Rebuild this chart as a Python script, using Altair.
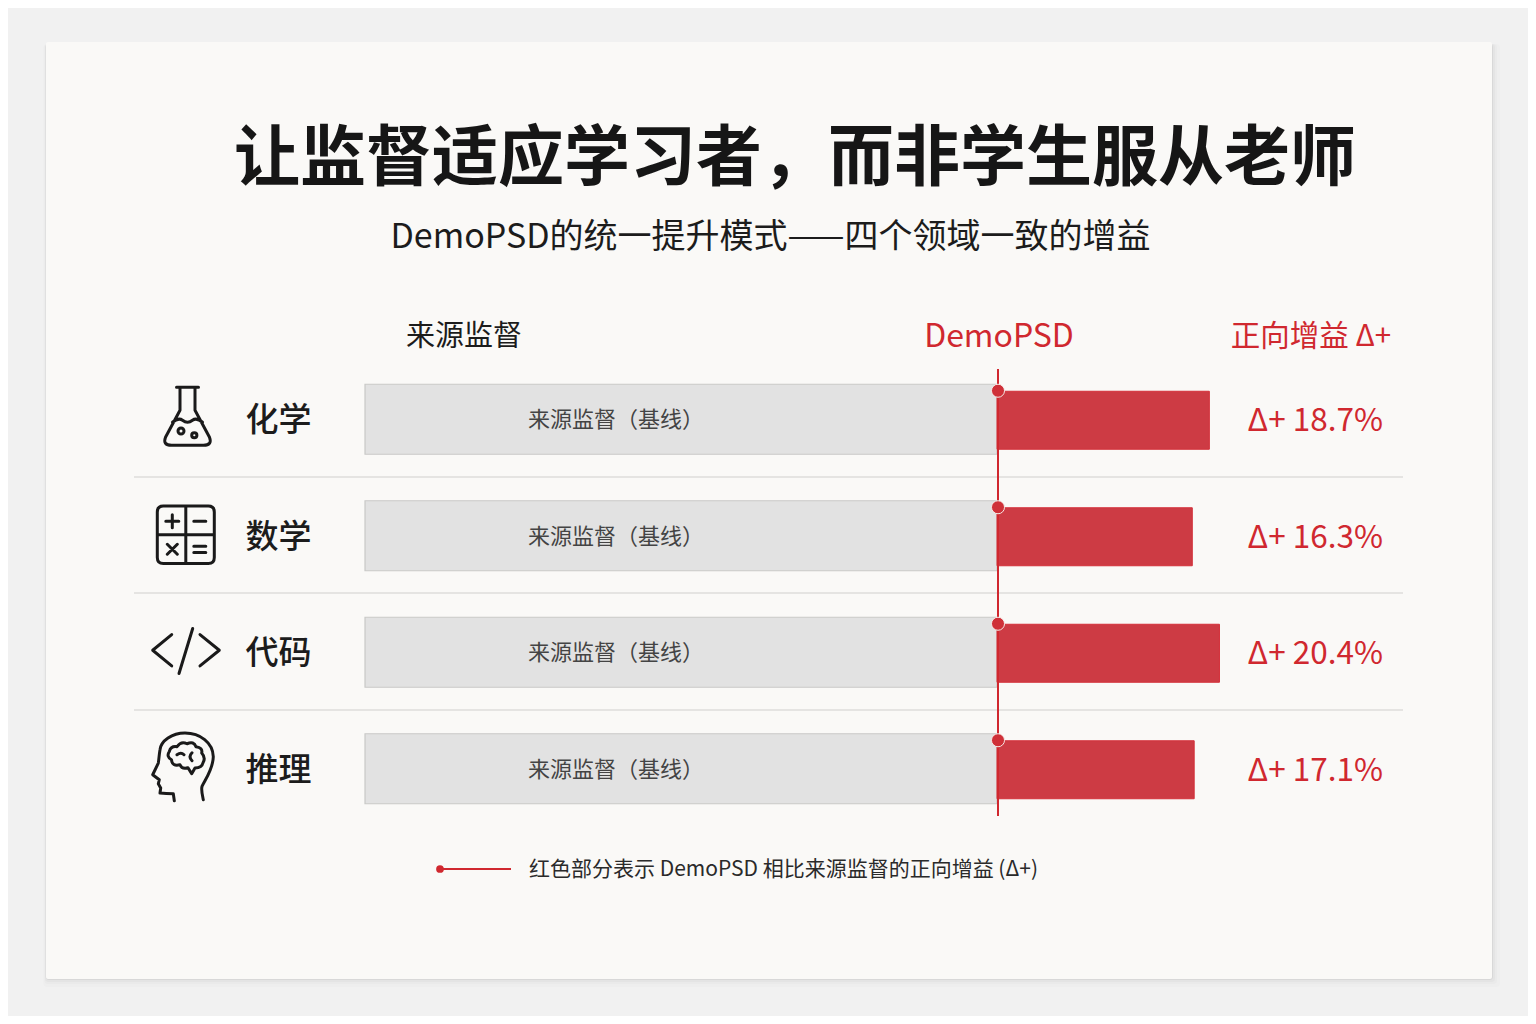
import altair as alt
import pandas as pd

# ---------- data ----------
categories = ["化学", "数学", "代码", "推理"]
baseline = [100, 100, 100, 100]          # source supervision = index 100
demopsd_end = [133.6, 130.9, 135.2, 131.2]  # bar ends
delta_labels = ["Δ+ 18.7%", "Δ+ 16.3%", "Δ+ 20.4%", "Δ+ 17.1%"]
baseline_label = "来源监督（基线）"
title_text = "让监督适应学习者，而非学生服从老师"
subtitle_text = "DemoPSD的统一提升模式——四个领域一致的增益"
head_source = "来源监督"
head_demo = "DemoPSD"
head_delta = "正向增益  Δ+"
foot_text = "红色部分表示 DemoPSD 相比来源监督的正向增益 (Δ+)"


def circle(cx, cy, r):
    return f"M{cx-r},{cy} a{r},{r} 0 1,0 {2*r},0 a{r},{r} 0 1,0 {-2*r},0 "


icon_flask = (
    "M-11,-29 H11 M-7.5,-29 V-6 L-22,21 Q-25,29 -16,29 H16 Q25,29 22,21 L7.5,-6 V-29 "
    "M-15,6 Q-9,1 -5,4 Q0,8 5,4 Q9,1 15,6 " + circle(-6.5, 14.7, 3) + circle(6.8, 19, 2.6)
)
icon_calc = (
    "M-22.5,-28.8 H22.5 Q28.5,-28.8 28.5,-22.8 V22.8 Q28.5,28.8 22.5,28.8 H-22.5 "
    "Q-28.5,28.8 -28.5,22.8 V-22.8 Q-28.5,-28.8 -22.5,-28.8 Z "
    "M0,-28.8 V28.8 M-28.5,0 H28.5 "
    "M-20,-13.5 H-7 M-13.5,-20 V-7 M8,-13.5 H20 "
    "M-18.5,9.5 L-8.5,19.5 M-8.5,9.5 L-18.5,19.5 M8,11.5 H20 M8,17.8 H20"
)
icon_code = (
    "M-14.3,-16.7 L-33.3,-1 L-14.3,14.7 M6.7,-22.7 L-7,22.3 M14,-16.7 L33.3,-1 L14,14.7"
)
icon_brain = (
    "M19.3,33 C18,27 17,23 18,19.7 C21,13 29,3 29.3,-10 C29,-24 16,-33.7 1,-33.7 "
    "C-12,-33.7 -23,-26 -24,-17 C-25,-11 -25,-8 -25.7,-3.7 L-31.3,8 L-24.7,13 L-25.7,17 "
    "L-23.3,21.3 L-24,26.3 C-18,27 -14,27 -10.7,27 L-9.7,34 "
    "M7.7,7 L4,1 Q-2,3 -4,-2 Q-12,0 -12.5,-7 Q-18,-10 -14.7,-15.3 Q-13,-21 -7,-20 "
    "Q-3,-26 3,-23 Q10,-26 12,-20 Q19,-19 17.7,-13.7 Q22,-9 19,-4 Q18,1 11,1.3 Z "
    "M-7,-12 Q-3,-15 0,-12 M8,-14 Q4,-10 8,-6"
)
icons = [icon_flask, icon_calc, icon_code, icon_brain]
icon_x = [187.5, 185.8, 186, 184]
icon_shift = [-3, -1, -1, -2]

INK = "#1c1c1c"
RED = "#d0282f"
FONT = "Noto Sans CJK SC"
OFF = 8  # page margin


def px(v):
    return alt.value(v - OFF)


rows = pd.DataFrame({
    "category": categories,
    "baseline": baseline,
    "start": baseline,
    "end": demopsd_end,
    "delta": delta_labels,
    "base_label": [baseline_label] * 4,
})

X = alt.Scale(domain=[0, 100], range=[365 - OFF, 997 - OFF])
Y = alt.Scale(domain=categories, range=[361 - OFF, 827 - OFF], paddingInner=0, paddingOuter=0)
ycat = alt.Y("category:N", scale=Y, axis=None)
xzero = alt.X("zero:Q", scale=X, axis=None)
one = pd.DataFrame({"a": [0]})


def box(x0, x1, y0, y1, color, opacity=1.0, radius=0):
    return alt.Chart(one).mark_rect(
        color=color, opacity=opacity, cornerRadius=radius
    ).encode(x=px(x0), x2=px(x1), y=px(y0), y2=px(y1))


def label(text, x, y, size, color=INK, weight=400, align="center", font=FONT):
    return alt.Chart(pd.DataFrame({"t": [text]})).mark_text(
        font=font, fontSize=size, color=color, fontWeight=weight, align=align,
        baseline="middle",
    ).encode(x=px(x), y=px(y), text="t:N")


layers = []
# soft shadow and paper card
for grow, op in [(8, 0.012), (5, 0.016), (3, 0.025), (1, 0.05)]:
    layers.append(box(46 - grow / 3, 1492 + grow, 42 + 2, 979 + grow, "#000000", op, 3))
layers.append(box(46, 1492, 42, 979, "#faf9f7", 1, 2))

# titles
layers.append(label(title_text, 795, 160, 66, "#161616", 700))
layers.append(label(subtitle_text, 770.5, 238, 34, INK, 400))
layers.append(label(head_source, 464, 337, 29, INK, 400))
layers.append(label(head_demo, 999, 337, 32, RED, 400))
layers.append(label(head_delta, 1311, 337, 29.5, RED, 400))

# row separators
sep = pd.DataFrame({"y": [477, 593, 710]})
layers.append(
    alt.Chart(sep).mark_rule(color="#dedddb", strokeWidth=1.5).encode(
        x=px(134), x2=px(1403),
        y=alt.Y("y:Q", scale=alt.Scale(domain=[0, 1008], range=[-OFF, 1008 - OFF]), axis=None),
    )
)

base = alt.Chart(rows.assign(zero=0))
# baseline bars
layers.append(
    base.mark_bar(size=70, color="#e2e2e2", stroke="#c9c9c7", strokeWidth=1.2, orient="horizontal").encode(
        x=xzero, x2="baseline:Q", y=ycat
    )
)
# DemoPSD gain bars
layers.append(
    base.mark_bar(size=58, color="#cd3b44", stroke="#d4303a", strokeWidth=1, yOffset=1, orient="horizontal").encode(
        x=alt.X("start:Q", scale=X, axis=None), x2="end:Q", y=ycat
    )
)
# vertical reference line
layers.append(
    alt.Chart(one).mark_rule(color=RED, strokeWidth=2).encode(x=px(998), y=px(369), y2=px(816))
)
# dots at the start of each gain
layers.append(
    base.mark_circle(size=170, color="#cf3038", stroke="#f6e9e6", strokeWidth=1, opacity=1, yOffset=-28.5, xOffset=1).encode(
        x=alt.X("start:Q", scale=X, axis=None), y=ycat
    )
)
# text in rows
layers.append(
    base.mark_text(font=FONT, fontSize=22, color="#444444", align="center", baseline="middle", dy=1).encode(
        x=px(616), y=ycat, text="base_label:N"
    )
)
layers.append(
    base.mark_text(font=FONT, fontSize=33, color=INK, fontWeight=500, align="left", baseline="middle", dy=2).encode(
        x=px(245.5), y=ycat, text="category:N"
    )
)
layers.append(
    base.mark_text(font=FONT, fontSize=31.5, color=RED, align="right", baseline="middle", dy=3).encode(
        x=px(1383), y=ycat, text="delta:N"
    )
)
# icons
for cat, shape, ix, shift in zip(categories, icons, icon_x, icon_shift):
    layers.append(
        alt.Chart(pd.DataFrame({"category": [cat]})).mark_point(
            shape=shape, size=4, filled=False, stroke="#1a1a1a", strokeWidth=3,
            opacity=1, strokeCap="round", strokeJoin="round", yOffset=shift,
        ).encode(x=px(ix), y=ycat)
    )

# footnote legend
layers.append(alt.Chart(one).mark_rule(color=RED, strokeWidth=2).encode(x=px(440), x2=px(511), y=px(869)))
layers.append(alt.Chart(one).mark_circle(size=60, color=RED, opacity=1).encode(x=px(440), y=px(869)))
layers.append(label(foot_text, 783.5, 870, 21, "#2a2a2a", 400))

chart = (
    alt.layer(*layers)
    .resolve_scale(x="shared", y="independent")
    .properties(
        width=1520,
        height=1008,
        background="#f1f1f1",
        padding=0,
        autosize=alt.AutoSizeParams(type="none"),
    )
    .configure_view(stroke=None)
)

chart.save("out.html", embed_options={"renderer": "svg", "actions": False})
